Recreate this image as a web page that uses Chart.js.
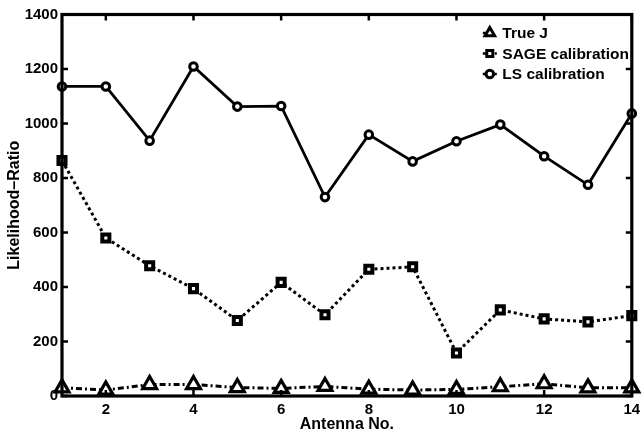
<!DOCTYPE html>
<html>
<head>
<meta charset="utf-8">
<script src="https://cdn.jsdelivr.net/npm/chart.js@4.4.0/dist/chart.umd.min.js"></script>
<style>
html, body { margin: 0; padding: 0; background: #fff; }
canvas { display: block; }
</style>
</head>
<body>
<canvas id="lrChart" width="643" height="433"></canvas>
<script>
// antenna index on the x axis
var antennas = [1, 2, 3, 4, 5, 6, 7, 8, 9, 10, 11, 12, 13, 14];
var trueJ = [30, 22, 42, 42, 31, 28, 35, 25, 22, 24, 34, 45, 30, 30];
var sageCal = [864, 580, 478, 394, 277, 417, 298, 465, 474, 158, 316, 283, 272, 295];
var lsCal = [1136, 1136, 937, 1209, 1062, 1064, 730, 959, 861, 935, 996, 880, 775, 1037];
var xTicks = [2, 4, 6, 8, 10, 12, 14];
var yTicks = [0, 200, 400, 600, 800, 1000, 1200, 1400];
var seriesNames = ["True J", "SAGE calibration", "LS calibration"];

function points(vals) {
  return antennas.map(function (a, i) { return { x: a, y: vals[i] }; });
}

function mark(ctx, style, x, y, r) {
  ctx.beginPath();
  if (style === "triangle") {
    ctx.moveTo(x, y - r);
    ctx.lineTo(x + r * 0.87, y + r * 0.5);
    ctx.lineTo(x - r * 0.87, y + r * 0.5);
    ctx.closePath();
  } else if (style === "rect") {
    ctx.rect(x - r * 0.8, y - r * 0.8, r * 1.6, r * 1.6);
  } else {
    ctx.arc(x, y, r, 0, Math.PI * 2);
  }
  ctx.fill();
  ctx.stroke();
}

// box round the plot with inward ticks, like the original figure
var frame = {
  id: "frame",
  afterDatasetsDraw: function (chart) {
    var ctx = chart.ctx, a = chart.chartArea;
    var sx = chart.scales.x, sy = chart.scales.y;
    ctx.save();
    ctx.strokeStyle = "#000";
    ctx.setLineDash([]);
    ctx.lineWidth = 2.5;
    ctx.beginPath();
    yTicks.forEach(function (v) {
      var py = sy.getPixelForValue(v);
      ctx.moveTo(a.left, py); ctx.lineTo(a.left + 6, py);
      ctx.moveTo(a.right, py); ctx.lineTo(a.right - 6, py);
    });
    xTicks.forEach(function (v) {
      var px = sx.getPixelForValue(v);
      ctx.moveTo(px, a.bottom); ctx.lineTo(px, a.bottom - 6);
      ctx.moveTo(px, a.top); ctx.lineTo(px, a.top + 6);
    });
    ctx.stroke();
    ctx.lineWidth = 3.2;
    ctx.strokeRect(a.left, a.top, a.right - a.left, a.bottom - a.top);
    ctx.restore();
  }
};

var legendBox = {
  id: "legendBox",
  afterDraw: function (chart) {
    var ctx = chart.ctx, a = chart.chartArea;
    var gx = a.right - 142, tx = a.right - 129.5;
    ctx.save();
    ctx.font = "bold 15.5px 'Liberation Sans', Arial, sans-serif";
    ctx.textBaseline = "middle";
    chart.data.datasets.forEach(function (ds, i) {
      var cy = a.top + 18.5 + i * 20.5;
      ctx.strokeStyle = "#000";
      ctx.lineWidth = 2.5;
      ctx.setLineDash(ds.borderDash || []);
      ctx.beginPath();
      ctx.moveTo(gx - 7, cy); ctx.lineTo(gx + 7, cy);
      ctx.stroke();
      ctx.setLineDash([]);
      ctx.fillStyle = "#fff";
      ctx.lineWidth = 3;
      mark(ctx, ds.pointStyle, gx, cy, ds.pointStyle === "triangle" ? 5.5 : 3.8);
      ctx.fillStyle = "#000";
      ctx.fillText(ds.label, tx, cy + 1);
    });
    ctx.restore();
  }
};

Chart.defaults.font.family = "'Liberation Sans', Arial, sans-serif";
Chart.defaults.font.weight = "bold";
Chart.defaults.font.size = 15;
Chart.defaults.color = "#000";

var ctx = document.getElementById("lrChart").getContext("2d");
var myChart = new Chart(ctx, {
  type: "line",
  data: {
    datasets: [
      {
        label: seriesNames[0],
        data: points(trueJ),
        borderColor: "#000",
        borderWidth: 3,
        borderDash: [6, 3, 2, 3],
        pointStyle: "triangle",
        pointRadius: 8,
        pointBorderWidth: 3.2,
        pointBackgroundColor: "#fff",
        pointBorderColor: "#000",
        clip: false,
      },
      {
        label: seriesNames[1],
        data: points(sageCal),
        borderColor: "#000",
        borderWidth: 3,
        borderDash: [3, 3],
        pointStyle: "rect",
        pointRadius: 5,
        pointBorderWidth: 4,
        pointBackgroundColor: "#fff",
        pointBorderColor: "#000",
        clip: false,
      },
      {
        label: seriesNames[2],
        data: points(lsCal),
        borderColor: "#000",
        borderWidth: 2.8,
        pointStyle: "circle",
        pointRadius: 3.8,
        pointBorderWidth: 3,
        pointBackgroundColor: "#fff",
        pointBorderColor: "#000",
        clip: false,
      },
    ],
  },
  options: {
    responsive: false,
    animation: false,
    layout: { padding: { top: 14.5, right: 8.5, left: 0, bottom: 0 } },
    plugins: { legend: { display: false }, tooltip: { enabled: false } },
    scales: {
      x: {
        type: "linear",
        min: 1,
        max: 14,
        grid: { display: false, drawTicks: false },
        border: { display: false },
        afterBuildTicks: function (scale) {
          scale.ticks = xTicks.map(function (v) { return { value: v }; });
        },
        afterFit: function (scale) {
          scale.height = 37;
          scale.paddingLeft = 0;
          scale.paddingRight = 0;
        },
        ticks: {
          padding: 5,
          maxRotation: 0,
          autoSkip: false,
          callback: function (v) { return String(v); },
        },
        title: {
          display: true,
          text: "Antenna No.",
          font: { size: 16, weight: "bold", lineHeight: 1 },
          padding: { top: 0, bottom: 0 },
        },
      },
      y: {
        min: 0,
        max: 1400,
        grid: { display: false, drawTicks: false },
        border: { display: false },
        afterBuildTicks: function (scale) {
          scale.ticks = yTicks.map(function (v) { return { value: v }; });
        },
        afterFit: function (scale) {
          scale.width = 62;
          scale.paddingTop = 0;
          scale.paddingBottom = 0;
        },
        ticks: {
          padding: 4,
          callback: function (v) { return String(v); },
        },
        title: {
          display: true,
          text: "Likelihood–Ratio",
          font: { size: 16, weight: "bold" },
          padding: { top: 5, bottom: 0 },
        },
      },
    },
  },
  plugins: [frame, legendBox],
});
</script>
</body>
</html>
